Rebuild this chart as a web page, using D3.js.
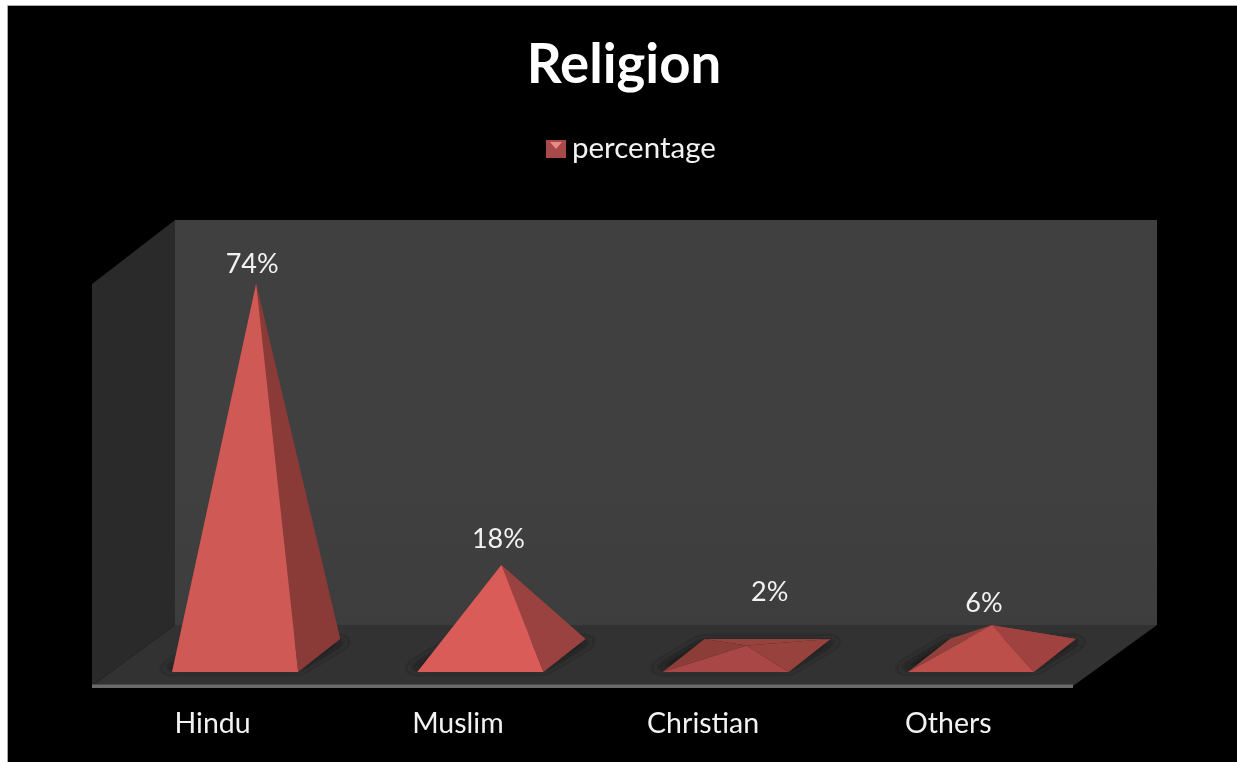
<!DOCTYPE html>
<html><head><meta charset="utf-8">
<script src="https://cdn.jsdelivr.net/npm/d3@7/dist/d3.min.js"></script>
<style>html,body{margin:0;padding:0;background:#fff;overflow:hidden}svg{display:block}text{font-family:Lato,"Open Sans",sans-serif}</style>
</head><body><script>
const title = "Religion";
const seriesName = "percentage";
const categories = ["Hindu", "Muslim", "Christian", "Others"];
const values = [74, 18, 2, 6];
const valueLabels = ["74%", "18%", "2%", "6%"];
const shadeStops = [2, 6, 18, 74];
const frontShades = ["#a84644", "#bd4f4c", "#d95c58", "#cf5a54"];
const rightShades = ["#98423d", "#a0433f", "#9a4240", "#8a3a38"];
const backShades = ["#98423d", "#a0433f", "#8a3a38", "#8a3a38"];
const leftShades = ["#8c3d39", "#93403c", "#8a3a38", "#8a3a38"];
const labelNudgeX = [-4, -3, 23, -8];
const labelBaseAbove = [11, 17, 44, 13];

const W = 1237, H = 762;
const frontX = [92, 1073], floorFrontY = 686, floorBackY = 625, depthDX = 83;
const wallTopY = 220, valueMax = 80;
const svg = d3.select("body").append("svg").attr("width", W).attr("height", H);

const defs = svg.append("defs");
defs.append("filter").attr("id","soft").attr("x","-30%").attr("y","-50%").attr("width","160%").attr("height","200%")
  .append("feGaussianBlur").attr("stdDeviation",5);
defs.append("filter").attr("id","scan").attr("filterUnits","userSpaceOnUse").attr("x",0).attr("y",0).attr("width",W).attr("height",H)
  .append("feGaussianBlur").attr("stdDeviation",0.55);
const wg = defs.append("linearGradient").attr("id","wallG").attr("x1",0).attr("y1",0).attr("x2",0).attr("y2",1);
wg.append("stop").attr("offset",0).attr("stop-color","#414141");
wg.append("stop").attr("offset",1).attr("stop-color","#3e3e3e");

svg.append("rect").attr("x",8).attr("y",6).attr("width",W-8).attr("height",H-6).attr("fill","#000");
svg.append("path").attr("d",`M7.5,${H}V5.5H${W}`).attr("fill","none").attr("stroke","#a8a8a8");
const root = svg.append("g").attr("filter","url(#scan)");

const xFront = d3.scaleBand().domain(categories).range(frontX);
const xMid = d3.scaleBand().domain(categories).range([frontX[0]+depthDX/2, frontX[1]+depthDX/2]);
const yH = d3.scaleLinear().domain([0,valueMax]).range([0,402]);
const midY = (floorFrontY+floorBackY)/2;
const line = pts => "M"+pts.map(p=>p.join(",")).join("L")+"Z";

// walls and floor
const g = root.append("g");
g.append("path").attr("fill","#2a2a2a").attr("d",line([[frontX[0],floorFrontY],[frontX[0],floorFrontY-yH(valueMax)],[frontX[0]+depthDX,wallTopY],[frontX[0]+depthDX,floorBackY]]));
g.append("path").attr("fill","url(#wallG)").attr("d",line([[frontX[0]+depthDX,wallTopY],[frontX[1]+depthDX+1,wallTopY],[frontX[1]+depthDX+1,floorBackY],[frontX[0]+depthDX,floorBackY]]));
g.append("path").attr("fill","#333333").attr("d",line([[frontX[0],floorFrontY],[frontX[0]+depthDX,floorBackY],[frontX[1]+depthDX+1,floorBackY],[frontX[1],floorFrontY]]));
g.append("rect").attr("x",frontX[0]).attr("y",floorFrontY-1.5).attr("width",frontX[1]-frontX[0]).attr("height",3.5).attr("fill","#6a6a6a");

const front = d3.scaleLinear().domain(shadeStops).range(frontShades);
const right = d3.scaleLinear().domain(shadeStops).range(rightShades);
const back = d3.scaleLinear().domain(shadeStops).range(backShades);
const left = d3.scaleLinear().domain(shadeStops).range(leftShades);

const halfW = xMid.bandwidth()*0.257, halfDX = 21, halfDY = 16.5;
const rows = categories.map((c,i)=>({c,v:values[i],label:valueLabels[i],i}));

const bars = root.append("g").selectAll("g").data(rows).join("g");
bars.each(function(d){
  const cx = xMid(d.c)+xMid.bandwidth()/2;
  const fl=[cx-halfW-halfDX,midY+halfDY], fr=[cx+halfW-halfDX,midY+halfDY],
        br=[cx+halfW+halfDX,midY-halfDY], bl=[cx-halfW+halfDX,midY-halfDY],
        apex=[cx,midY-yH(d.v)];
  const s=d3.select(this);
  s.append("path").attr("d",line([[fl[0]-12,fl[1]-2],[fr[0]+2,fr[1]-2],[br[0]+10,br[1]+1],[bl[0]-4,bl[1]+1]])).attr("fill","#1a1a1a").attr("filter","url(#soft)");
  s.append("path").attr("d",line([bl,br,apex])).attr("fill",back(d.v));
  s.append("path").attr("d",line([fl,bl,apex])).attr("fill",left(d.v));
  s.append("path").attr("d",line([fr,br,apex])).attr("fill",right(d.v));
  s.append("path").attr("d",line([fl,fr,apex])).attr("fill",front(d.v));
  s.append("text").attr("x",cx+labelNudgeX[d.i]).attr("y",apex[1]-labelBaseAbove[d.i])
    .attr("text-anchor","middle").attr("font-size",27).attr("fill","#f2f2f2").text(d.label);
});

// category axis
const axis = root.append("g").attr("transform",`translate(-2,${floorFrontY})`)
  .call(d3.axisBottom(xFront).tickSize(0).tickPadding(27));
axis.select(".domain").remove();
axis.selectAll("text").attr("font-family",'Lato,"Open Sans",sans-serif').attr("font-size",28.5).attr("fill","#f2f2f2");

// title + legend
root.append("text").attr("x",624).attr("y",83).attr("text-anchor","middle").attr("font-size",54.5).attr("font-weight",700).attr("fill","#fff").text(title);
const lg = root.append("g").attr("transform","translate(546,140)");
lg.append("rect").attr("width",20).attr("height",18).attr("fill","#a84a48");
lg.append("path").attr("d",line([[4,2],[16,2],[10,9]])).attr("fill","#e88a86");
root.append("text").attr("x",572).attr("y",158).attr("font-size",29.5).attr("fill","#f2f2f2").text(seriesName);
</script></body></html>
